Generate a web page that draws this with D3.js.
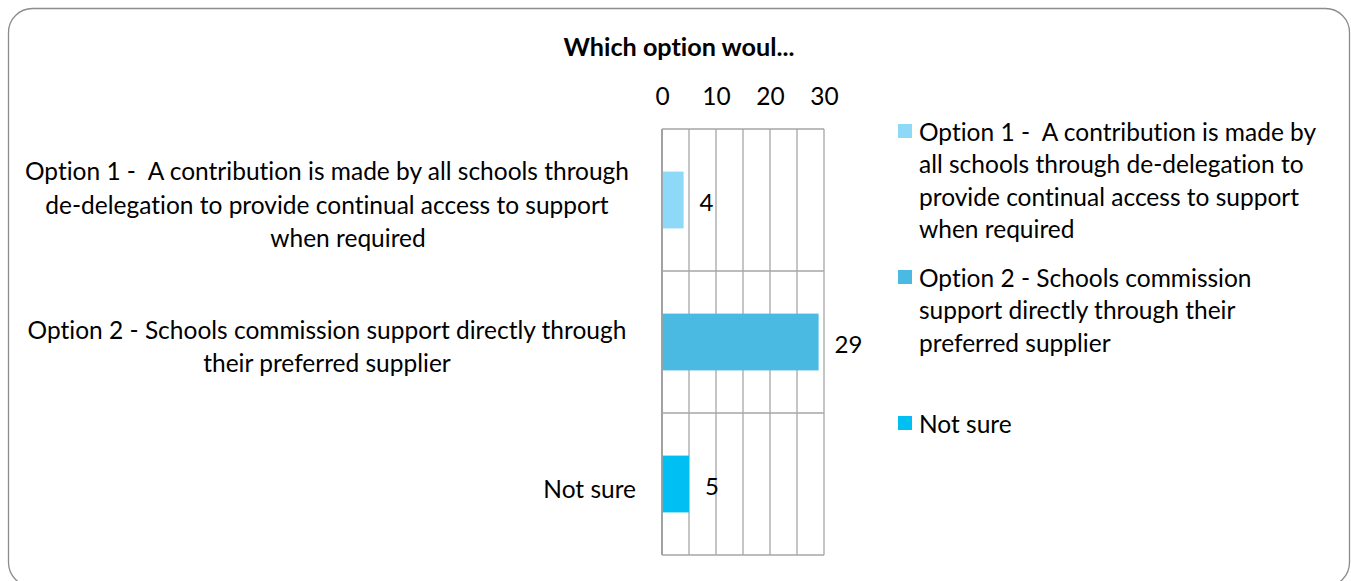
<!DOCTYPE html>
<html>
<head>
<meta charset="utf-8">
<script src="https://cdn.jsdelivr.net/npm/d3@7"></script>
<style>
  html, body { margin: 0; padding: 0; background: #fff; }
  svg { display: block; }
  text { font-family: Lato, "Open Sans", sans-serif; fill: #000; white-space: pre;
         font-variant-ligatures: none; font-feature-settings: "liga" 0; }
</style>
</head>
<body>
<svg id="chart" width="1351" height="581"></svg>
<script>
// Survey responses: which funding option respondents prefer
const categories = [
  "Option 1 -  A contribution is made by all schools through de-delegation to provide continual access to support when required",
  "Option 2 - Schools commission support directly through their preferred supplier",
  "Not sure"
];
const values = [4, 29, 5];
const barColors = ["#8DD9F7", "#4BBAE3", "#00BFF3"];

// Wrapped text for the category axis and the legend
const axisLabelLines = [
  ["Option 1 -  A contribution is made by all schools through",
   "de-delegation to provide continual access to support",
   "when required"],
  ["Option 2 - Schools commission support directly through",
   "their preferred supplier"],
  ["Not sure"]
];
const legendLines = [
  ["Option 1 -  A contribution is made by",
   "all schools through de-delegation to",
   "provide continual access to support",
   "when required"],
  ["Option 2 - Schools commission",
   "support directly through their",
   "preferred supplier"],
  ["Not sure"]
];
const tickLabels = [0, 10, 20, 30];
const gridValues = [0, 5, 10, 15, 20, 25, 30];
const chartTitle = "Which option woul...";

const labelSize = 24.5;
const svg = d3.select("#chart");

// Rounded outer frame
svg.append("rect")
  .attr("x", 8.5).attr("y", 8.5)
  .attr("width", 1341).attr("height", 578)
  .attr("rx", 24).attr("ry", 24)
  .attr("fill", "#fff")
  .attr("stroke", "#8c8c8c")
  .attr("stroke-width", 1.3);

// Title
svg.append("text")
  .attr("x", 679).attr("y", 46)
  .attr("text-anchor", "middle")
  .attr("dominant-baseline", "central")
  .attr("font-size", 25.2)
  .attr("font-weight", "bold")
  .text(chartTitle);

// Scales
const x = d3.scaleLinear().domain([0, 30]).range([662, 824]);
const y = d3.scaleBand().domain(categories).range([129, 555]).padding(0);
const barH = y.bandwidth() * 0.4;

const plot = svg.append("g");

// Vertical gridlines
plot.selectAll("line.vgrid")
  .data(gridValues)
  .join("line")
  .attr("class", "vgrid")
  .attr("x1", d => x(d)).attr("x2", d => x(d))
  .attr("y1", y.range()[0]).attr("y2", y.range()[1])
  .attr("stroke", d => d === 0 ? "#8a8a8a" : "#a6a6a6")
  .attr("stroke-width", d => d === 0 ? 1.6 : 1.3);

// Horizontal category separators
const sepY = categories.map(c => y(c)).concat([y.range()[1]]);
plot.selectAll("line.hgrid")
  .data(sepY)
  .join("line")
  .attr("class", "hgrid")
  .attr("x1", x(0)).attr("x2", x(30))
  .attr("y1", d => d).attr("y2", d => d)
  .attr("stroke", "#a6a6a6")
  .attr("stroke-width", 1.3);

// Top value axis labels
const xAxis = d3.axisTop(x).tickValues(tickLabels).tickSize(0).tickPadding(0);
const axisG = svg.append("g")
  .attr("transform", "translate(0,95)")
  .call(xAxis);
axisG.select(".domain").remove();
axisG.selectAll("text")
  .attr("font-size", 24.5)
  .attr("font-family", "Lato, 'Open Sans', sans-serif")
  .attr("fill", "#000")
  .attr("dy", null)
  .attr("dominant-baseline", "central");

// Bars
plot.selectAll("rect.bar")
  .data(values)
  .join("rect")
  .attr("class", "bar")
  .attr("x", x(0) + 0.8)
  .attr("y", (d, i) => y(categories[i]) + (y.bandwidth() - barH) / 2)
  .attr("width", d => x(d) - x(0) - 0.8)
  .attr("height", barH)
  .attr("fill", (d, i) => barColors[i]);

// Value labels
plot.selectAll("text.val")
  .data(values)
  .join("text")
  .attr("class", "val")
  .attr("x", d => x(d) + 16)
  .attr("y", (d, i) => y(categories[i]) + y.bandwidth() / 2 + 1)
  .attr("dominant-baseline", "central")
  .attr("font-size", 24)
  .text(d => d);

// Category labels (wrapped, centred block; single-line label sits by the axis)
const lineH = 33.3;
const catLabels = svg.append("g");
axisLabelLines.forEach((lines, i) => {
  const cy = y(categories[i]) + y.bandwidth() / 2 + 4;
  const top = cy - (lines.length - 1) * lineH / 2;
  lines.forEach((ln, j) => {
    const t = catLabels.append("text")
      .attr("y", top + j * lineH)
      .attr("dominant-baseline", "central")
      .attr("font-size", labelSize)
      .text(ln);
    if (lines.length === 1) {
      t.attr("x", 636).attr("text-anchor", "end");
    } else {
      const shift = (i === 0 && j === 2) ? 21 : 0;
      t.attr("x", 327 + shift).attr("text-anchor", "middle");
    }
  });
});

// Legend
const legend = svg.append("g");
legendLines.forEach((lines, i) => {
  const ly = 131 + i * 146;
  legend.append("rect")
    .attr("x", 898).attr("y", ly - 7)
    .attr("width", 14).attr("height", 14)
    .attr("fill", barColors[i]);
  lines.forEach((ln, j) => {
    legend.append("text")
      .attr("x", 919)
      .attr("y", ly + j * 32.5)
      .attr("dominant-baseline", "central")
      .attr("font-size", labelSize)
      .text(ln);
  });
});
</script>
</body>
</html>
